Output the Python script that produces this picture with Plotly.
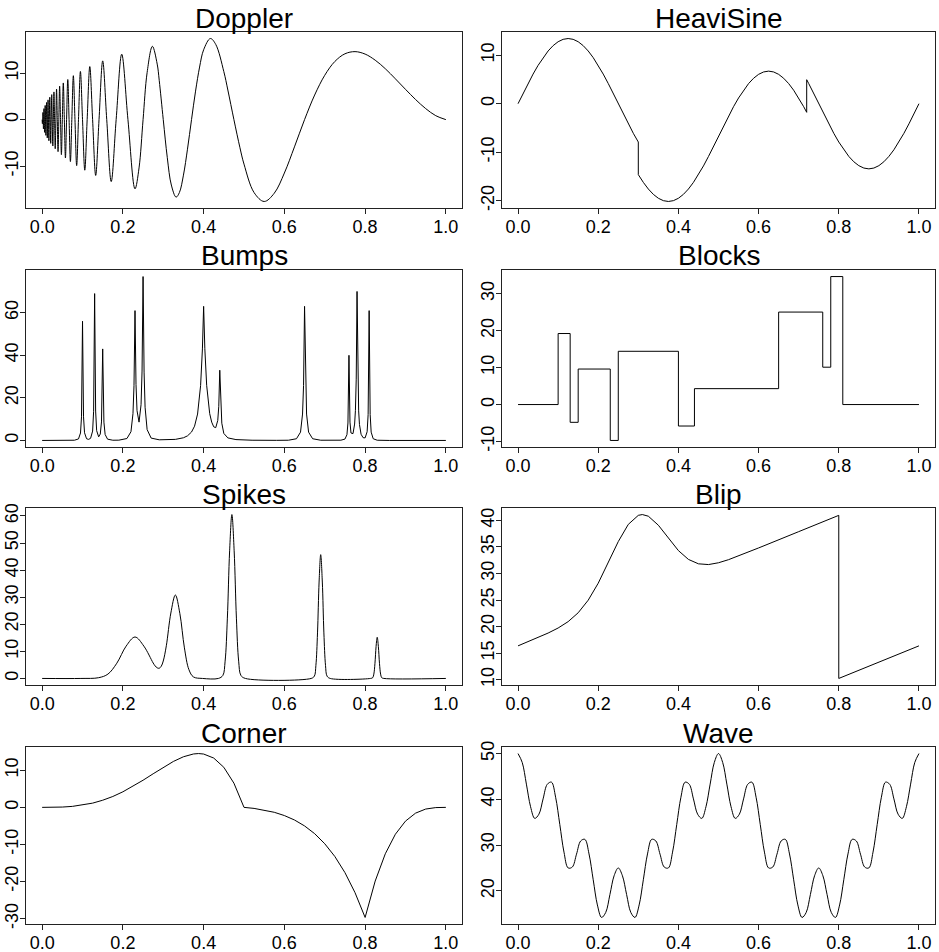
import plotly.graph_objects as go

# ---------------- data ----------------
doppler_t = [0.0, 0.0006, 0.0012, 0.0019, 0.0025, 0.0032, 0.0038, 0.0045, 0.0053, 0.006,
             0.0068, 0.0075, 0.0083, 0.0092, 0.01, 0.0109, 0.0118, 0.0127, 0.0136, 0.0146,
             0.0156, 0.0167, 0.0177, 0.0189, 0.02, 0.0212, 0.0224, 0.0237, 0.025, 0.0264,
             0.0278, 0.0292, 0.0308, 0.0324, 0.034, 0.0357, 0.0375, 0.0394, 0.0413, 0.0433,
             0.0455, 0.0477, 0.05, 0.0524, 0.055, 0.0577, 0.0605, 0.0635, 0.0667, 0.07,
             0.0735, 0.0773, 0.0813, 0.0855, 0.09, 0.0948, 0.1, 0.1056, 0.1115, 0.118,
             0.125, 0.1326, 0.1409, 0.15, 0.16, 0.1711, 0.1833, 0.1971, 0.2125, 0.23,
             0.24, 0.25, 0.26, 0.2731, 0.285, 0.29, 0.30, 0.31, 0.32, 0.3318,
             0.34, 0.35, 0.36, 0.37, 0.38, 0.39, 0.40, 0.4167, 0.43, 0.45,
             0.46, 0.475, 0.49, 0.50, 0.525, 0.55, 0.575, 0.60, 0.625, 0.65,
             0.675, 0.70, 0.725, 0.75, 0.775, 0.80, 0.825, 0.85, 0.875, 0.90,
             0.925, 0.95, 0.975, 1.0]
doppler_y = [0, -0.87, 0, 1.54, 0, -2.0, 0, 2.37, 0, -2.73,
             0, 3.05, 0, -3.38, 0, 3.68, 0, -3.96, 0, 4.25,
             0, -4.54, 0, 4.82, 0, -5.10, 0, 5.38, 0, -5.68,
             0, 5.96, 0, -6.27, 0, 6.57, 0, -6.89, 0, 7.21,
             0, -7.54, 0, 7.89, 0, -8.25, 0, 8.63, 0, -9.03,
             0, 9.45, 0, -9.90, 0, 10.37, 0, -10.88, 0, 11.42,
             0, -12.01, 0, 12.64, 0, -13.33, 0, 14.08, 0, -14.90,
             -10.39, 0, 10.11, 15.77, 11.95, 8.46, 0, -8.19, -14.07, -16.67,
             -15.68, -11.94, -6.36, 0, 6.13, 11.31, 15.02, 17.45, 16.19, 10.35,
             6.37, 0, -6.05, -9.57, -15.70, -17.61, -15.83, -11.49, -5.86, 0,
             5.29, 9.54, 12.51, 14.16, 14.63, 14.10, 12.79, 10.95, 8.78, 6.52,
             4.33, 2.38, 0.85, 0]

# sample positions (step 1/80) with the two jumps at 0.30 and 0.72 repeated
heavisine_t = ([k / 80 for k in range(25)] + [0.3] + [k / 80 for k in range(25, 58)]
               + [0.72, 0.72] + [k / 80 for k in range(58, 81)])
heavisine_y = [0, 2.10, 4.16, 6.11, 7.91, 9.51, 10.88, 11.98, 12.79, 13.28,
               13.45, 13.28, 12.79, 11.98, 10.88, 9.51, 7.91, 6.11, 4.16, 2.10,
               0, -2.10, -4.16, -6.11, -7.91,
               -14.64,
               -16.24, -17.61, -18.71, -19.52, -20.01, -20.18, -20.01, -19.52, -18.71, -17.61,
               -16.24, -14.64, -12.84, -10.89, -8.83, -6.73, -4.63, -2.57, -0.62, 1.18,
               2.78, 4.15, 5.25, 6.06, 6.55, 6.72, 6.55, 6.06, 5.25, 4.15,
               2.78, 1.18, -0.62,
               -1.78, 4.95,
               4.16, 2.10, 0, -2.10, -4.16, -6.11, -7.91, -9.51, -10.88, -11.98,
               -12.79, -13.28, -13.45, -13.28, -12.79, -11.98, -10.88, -9.51, -7.91, -6.11,
               -4.16, -2.10, 0]

bumps_t = [0.0, 0.08, 0.09, 0.095, 0.0975, 0.1, 0.1025, 0.105, 0.11, 0.115,
           0.12, 0.125, 0.1275, 0.13, 0.1325, 0.135, 0.14, 0.144, 0.147, 0.15,
           0.153, 0.156, 0.162, 0.175, 0.19, 0.21, 0.22, 0.225, 0.2275, 0.23,
           0.2325, 0.235, 0.24, 0.245, 0.2475, 0.25, 0.2525, 0.255, 0.26, 0.27,
           0.29, 0.31, 0.33, 0.35, 0.36, 0.37, 0.3775, 0.385, 0.3925, 0.397,
           0.40, 0.403, 0.4075, 0.415, 0.42, 0.425, 0.43, 0.435, 0.4375, 0.44,
           0.4425, 0.445, 0.45, 0.46, 0.48, 0.52, 0.58, 0.61, 0.63, 0.64,
           0.645, 0.6475, 0.65, 0.6525, 0.655, 0.66, 0.67, 0.69, 0.72, 0.74,
           0.75, 0.755, 0.7575, 0.76, 0.7625, 0.765, 0.77, 0.774, 0.776, 0.778,
           0.78, 0.782, 0.784, 0.786, 0.79, 0.795, 0.80, 0.805, 0.8075, 0.81,
           0.8125, 0.815, 0.82, 0.83, 0.86, 1.0]
bumps_y = [0.0, 0.1, 0.7, 3.5, 11.1, 56.0, 11.1, 3.6, 0.8, 0.5,
           1.0, 4.4, 13.7, 69.0, 13.8, 4.6, 1.7, 3.0, 8.7, 43.0,
           8.6, 2.8, 0.6, 0.1, 0.13, 0.9, 4.1, 12.6, 25.7, 61.0,
           26.3, 14.0, 8.6, 16.8, 32.6, 77.0, 32.1, 15.6, 5.1, 1.1,
           0.3, 0.3, 0.5, 1.25, 2.15, 3.95, 6.7, 12.4, 25.8, 43.0,
           63.0, 43.1, 25.9, 12.6, 8.6, 6.4, 6.0, 9.4, 16.0, 33.0,
           15.3, 8.1, 3.3, 1.2, 0.4, 0.1, 0.05, 0.1, 0.8, 3.9,
           12.4, 25.8, 63.0, 25.8, 12.4, 3.9, 0.8, 0.1, 0.04, 0.12,
           0.63, 2.7, 8.2, 40.0, 8.6, 3.5, 3.2, 7.7, 14.0, 28.8,
           70.0, 28.7, 13.9, 7.5, 2.9, 1.3, 1.2, 4.1, 12.2, 61.0,
           12.2, 3.9, 0.8, 0.1, 0.0, 0.0]

blocks_t = [0, 0.1, 0.13, 0.15, 0.23, 0.25, 0.40, 0.44, 0.65, 0.76, 0.78, 0.81, 1.0]
blocks_y = [0, 19.2, -4.8, 9.6, -9.7, 14.4, -5.8, 4.3, 25.0, 10.1, 34.6, 0, 0]

spikes_t = [0.0, 0.096, 0.14, 0.163, 0.185, 0.208, 0.23, 0.252, 0.275, 0.28,
            0.285, 0.29, 0.295, 0.30, 0.3076, 0.3188, 0.33, 0.3412, 0.3524, 0.3636,
            0.3748, 0.397, 0.4365, 0.4476, 0.4532, 0.4588, 0.4644, 0.47, 0.4756, 0.4812,
            0.4868, 0.4924, 0.5035, 0.6663, 0.6742, 0.6781, 0.6821, 0.686, 0.69, 0.694,
            0.6979, 0.7019, 0.7058, 0.7137, 0.8132, 0.8188, 0.8216, 0.8244, 0.8272, 0.83,
            0.8328, 0.8356, 0.8384, 0.8412, 0.8468, 1.0]
spikes_y = [0, 0, 0.28, 1.61, 5.63, 11.92, 15.3, 11.92, 5.7, 4.6,
            3.92, 3.76, 4.5, 6.44, 12.07, 24.15, 30.8, 23.9, 11.29, 3.24,
            0.56, 0, 0, 1.11, 6.38, 22.26, 47.12, 60.5, 47.12, 22.26,
            6.38, 1.11, 0, 0, 0.84, 4.82, 16.81, 35.59, 45.7, 35.59,
            16.81, 4.82, 0.84, 0, 0, 0.28, 1.6, 5.59, 11.84, 15.2,
            11.84, 5.59, 1.6, 0.28, 0, 0]

blip_t = [0, .025, .05, .075, .1, .125, .15, .175, .2, .225,
          .25, .275, .3, .31, .325, .35, .375, .4, .425, .45,
          .475, .5, .525, .55, .6, .7, .8, .8, 1.0]
blip_y = [16.38, 17.16, 17.95, 18.79, 19.74, 20.94, 22.61, 24.98, 28.18, 32.05,
          36.02, 39.26, 40.96, 41.11, 40.80, 39.10, 36.65, 34.32, 32.66, 31.83,
          31.69, 32.03, 32.61, 33.31, 34.82, 37.89, 40.96, 10.24, 16.38]

corner_t = [0, .025, .05, .075, .1, .125, .15, .175, .2, .225,
            .25, .275, .3, .325, .35, .375, .3875, .4, .425, .45,
            .475, .5, .525, .55, .575, .6, .625, .65, .675, .7,
            .725, .75, .775, .8, .825, .85, .875, .9, .925, .95,
            .975, 1.0]
corner_y = [0, 0.01, 0.08, 0.26, 0.60, 1.14, 1.92, 2.93, 4.19, 5.67,
            7.31, 9.05, 10.78, 12.37, 13.64, 14.39, 14.50, 14.37, 13.29, 10.80,
            6.52, 0, -0.28, -0.71, -1.33, -2.21, -3.40, -5.00, -7.09, -9.80,
            -13.24, -17.58, -22.99, -29.67, -19.86, -12.51, -7.24, -3.71, -1.56, -0.46,
            -0.06, 0]

wave_t = [k / 96 for k in range(97)]
wave_y = [50.0, 48.06, 43.32, 38.38, 35.83, 36.75, 40.09, 43.28, 43.75, 40.45,
          34.49, 28.46, 25.0, 25.20, 28.01, 30.89, 31.25, 28.06, 22.41, 16.91,
          14.18, 15.28, 19.18, 23.28, 25.0, 23.28, 19.18, 15.28, 14.18, 16.91,
          22.41, 28.06, 31.25, 30.89, 28.01, 25.20, 25.0, 28.46, 34.49, 40.45,
          43.75, 43.28, 40.09, 36.75, 35.83, 38.38, 43.32, 48.06, 50.0,
          48.06, 43.32, 38.38, 35.83, 36.75, 40.09, 43.28, 43.75, 40.45,
          34.49, 28.46, 25.0, 25.20, 28.01, 30.89, 31.25, 28.06, 22.41, 16.91,
          14.18, 15.28, 19.18, 23.28, 25.0, 23.28, 19.18, 15.28, 14.18, 16.91,
          22.41, 28.06, 31.25, 30.89, 28.01, 25.20, 25.0, 28.46, 34.49, 40.45,
          43.75, 43.28, 40.09, 36.75, 35.83, 38.38, 43.32, 48.06, 50.0]

titles = ["Doppler", "HeaviSine", "Bumps", "Blocks", "Spikes", "Blip", "Corner", "Wave"]
x_ticks = [0.0, 0.2, 0.4, 0.6, 0.8, 1.0]
x_ticklabels = ["0.0", "0.2", "0.4", "0.6", "0.8", "1.0"]
y_ticks = [
    [-10, 0, 10],
    [-20, -10, 0, 10],
    [0, 20, 40, 60],
    [-10, 0, 10, 20, 30],
    [0, 10, 20, 30, 40, 50, 60],
    [10, 15, 20, 25, 30, 35, 40],
    [-30, -20, -10, 0, 10],
    [20, 30, 40, 50],
]

# ---------------- layout / styling ----------------
W, H = 939, 952
COL_X = [(26, 462), (502, 935)]
ROW_Y = [(32, 208), (270, 447), (508, 685), (747, 924)]
FONT = "Liberation Sans, Arial, sans-serif"

series = [
    (doppler_t, doppler_y, "spline", 1.0),
    (heavisine_t, heavisine_y, "linear", None),
    (bumps_t, bumps_y, "linear", None),
    (blocks_t, blocks_y, "hv", None),
    (spikes_t, spikes_y, "spline", 1.0),
    (blip_t, blip_y, "linear", None),
    (corner_t, corner_y, "linear", None),
    (wave_t, wave_y, "spline", 1.0),
]

fig = go.Figure()
annotations = []
layout_axes = {}
for i, (xs, ys, shape, smooth) in enumerate(series):
    n = i + 1
    row, col = divmod(i, 2)
    x0, x1 = COL_X[col]
    y0, y1 = ROW_Y[row]
    line = dict(color="black", width=1, shape=shape)
    if smooth is not None:
        line["smoothing"] = smooth
    fig.add_trace(go.Scatter(x=xs, y=ys, mode="lines", line=line,
                             xaxis=f"x{n}", yaxis=f"y{n}", showlegend=False,
                             hoverinfo="skip"))
    ymin, ymax = min(ys), max(ys)
    pad = 0.04 * (ymax - ymin)
    common = dict(showline=True, mirror=True, linecolor="#222", linewidth=1,
                  ticks="outside", ticklen=5, tickwidth=1, tickcolor="#222",
                  showgrid=False, zeroline=False, automargin=False,
                  tickfont=dict(family=FONT, size=18, color="black"))
    layout_axes[f"xaxis{n}"] = dict(domain=[x0 / W, x1 / W], anchor=f"y{n}",
                                    range=[-0.04, 1.04], tickvals=x_ticks,
                                    ticktext=x_ticklabels, ticklabelstandoff=-3,
                                    **common)
    layout_axes[f"yaxis{n}"] = dict(domain=[1 - y1 / H, 1 - y0 / H], anchor=f"x{n}",
                                    range=[ymin - pad, ymax + pad],
                                    tickvals=y_ticks[i],
                                    ticktext=[str(v) for v in y_ticks[i]],
                                    tickangle=-90, ticklabelstandoff=-5, **common)
    annotations.append(dict(text=titles[i], xref="paper", yref="paper",
                            x=(x0 + x1) / 2 / W, y=1 - (y0 - 14) / H,
                            xanchor="center", yanchor="middle", showarrow=False,
                            font=dict(family=FONT, size=28, color="black")))

fig.update_layout(width=W, height=H, autosize=False,
                  margin=dict(l=0, r=0, t=0, b=0, pad=0),
                  paper_bgcolor="white", plot_bgcolor="white",
                  annotations=annotations, **layout_axes)

fig.write_html("out.html", config={"displayModeBar": False},
               post_script="document.body.style.margin='0';"
                           "document.body.style.overflow='hidden';")
